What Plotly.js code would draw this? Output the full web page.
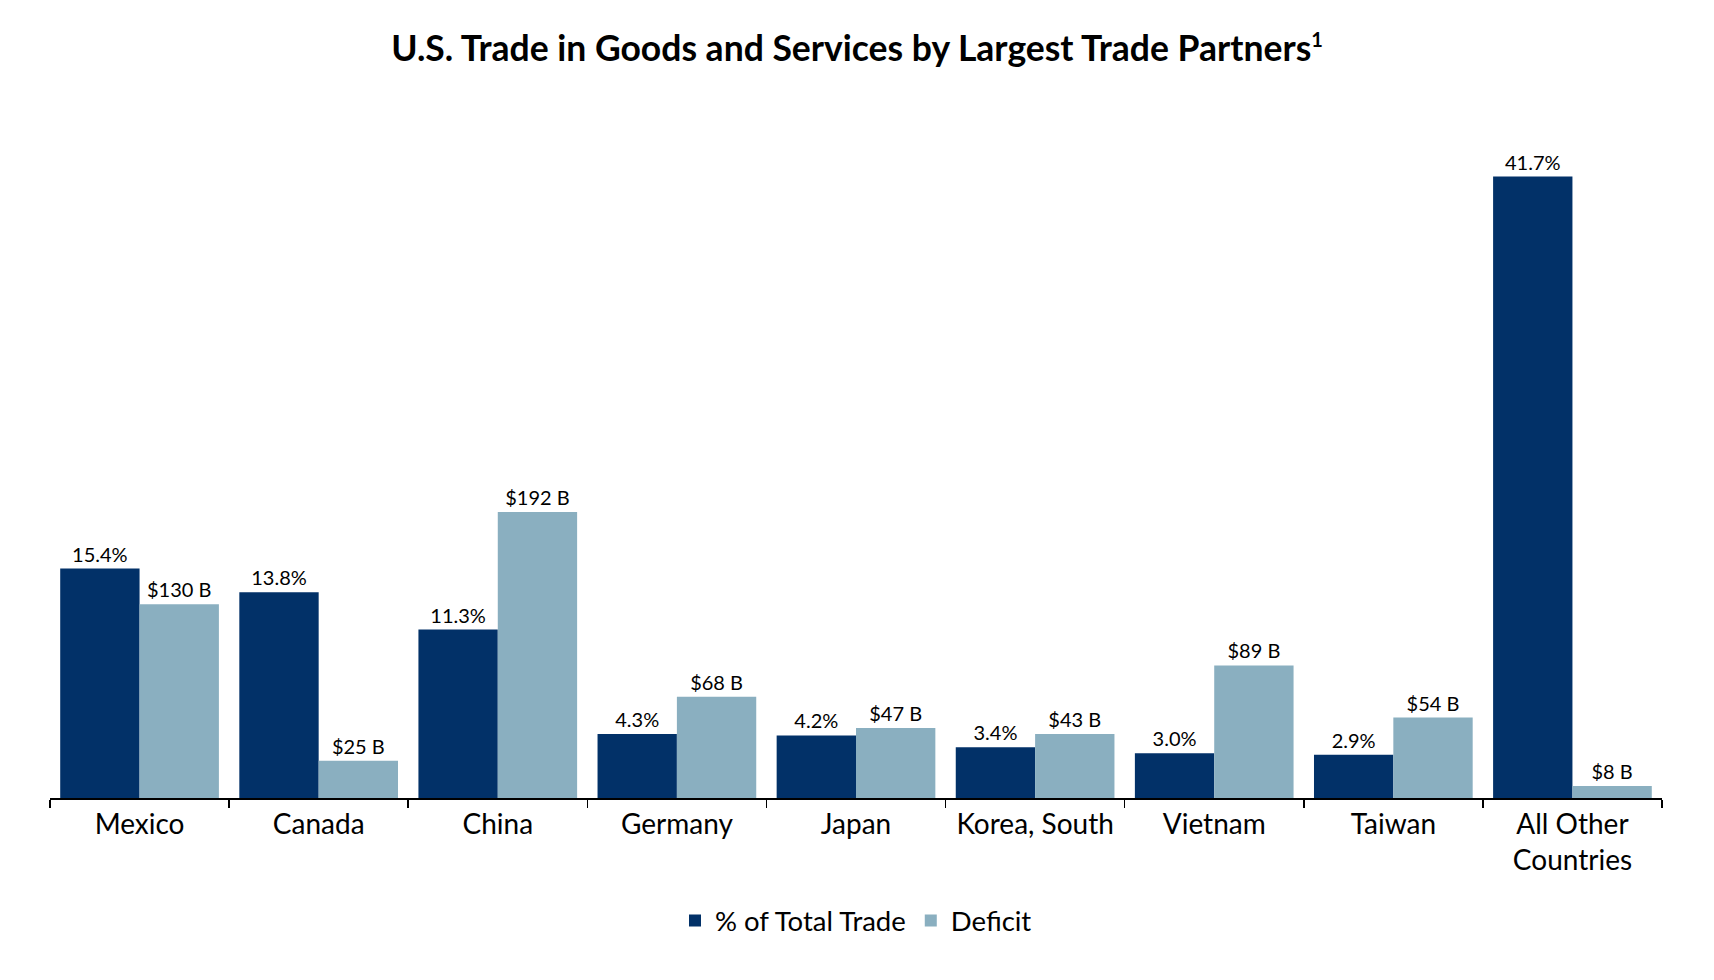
<!DOCTYPE html>
<html>
<head>
<meta charset="utf-8">
<script src="https://cdn.plot.ly/plotly-3.0.1.min.js"></script>
<style>html,body{margin:0;padding:0;background:#fff;}#chart{width:1714px;height:980px;}</style>
</head>
<body>
<div id="chart"></div>
<script>
const categories = ["Mexico", "Canada", "China", "Germany", "Japan", "Korea, South", "Vietnam", "Taiwan", "All Other<br>Countries"];
const shareOfTotalTrade = [15.4, 13.8, 11.3, 4.3, 4.2, 3.4, 3.0, 2.9, 41.7];
const deficitBillions = [130, 25, 192, 68, 47, 43, 89, 54, 8];
const seriesNames = ["% of Total Trade", "Deficit"];

const FONT = "Lato, 'Open Sans', sans-serif";
const DARK = "#023168";
const LIGHT = "#8AAFC0";

const traces = [
  {
    type: "bar",
    name: seriesNames[0],
    x: categories,
    y: shareOfTotalTrade,
    yaxis: "y",
    offsetgroup: "a",
    marker: {color: DARK},
    texttemplate: "%{y:.1f}%",
    textposition: "outside",
    textangle: 0,
    constraintext: "none",
    cliponaxis: false,
    textfont: {family: FONT, size: 20, color: "#000"},
    hoverinfo: "skip"
  },
  {
    type: "bar",
    name: seriesNames[1],
    x: categories,
    y: deficitBillions,
    yaxis: "y2",
    offsetgroup: "b",
    marker: {color: LIGHT},
    texttemplate: "$%{y} B",
    textposition: "outside",
    textangle: 0,
    constraintext: "none",
    cliponaxis: false,
    textfont: {family: FONT, size: 20, color: "#000"},
    hoverinfo: "skip"
  }
];

const yMax = 45.5;
const layout = {
  width: 1714,
  height: 980,
  margin: {l: 50, r: 52, t: 120, b: 182},
  paper_bgcolor: "#fff",
  plot_bgcolor: "#fff",
  font: {family: FONT, color: "#000"},
  title: {
    text: "<b>U.S. Trade in Goods and Services by Largest Trade Partners<sup><span style=\"font-size:20px\">1</span></sup></b>",
    font: {family: FONT, size: 35.5, color: "#000"},
    x: 0.5, xanchor: "center",
    y: 0.95, yanchor: "middle", yref: "container"
  },
  barmode: "group",
  bargap: 0.114,
  bargroupgap: 0,
  showlegend: true,
  legend: {
    orientation: "h",
    x: 0.5, xanchor: "center",
    y: -0.181, yanchor: "middle",
    font: {family: FONT, size: 27.5, color: "#000"},
    itemwidth: 30,
    traceorder: "normal"
  },
  xaxis: {
    type: "category",
    showline: true,
    linecolor: "#000",
    linewidth: 2,
    ticks: "outside",
    tickson: "boundaries",
    ticklen: 8,
    tickwidth: 1.5,
    tickcolor: "#000",
    tickfont: {family: FONT, size: 28, color: "#000"},
    showgrid: false,
    zeroline: false,
    fixedrange: true
  },
  yaxis: {
    range: [0, yMax],
    visible: false,
    showgrid: false,
    zeroline: false,
    fixedrange: true
  },
  yaxis2: {
    range: [0, yMax * 10],
    overlaying: "y",
    visible: false,
    showgrid: false,
    zeroline: false,
    fixedrange: true
  }
};

Plotly.newPlot("chart", traces, layout, {displayModeBar: false, staticPlot: true});
</script>
</body>
</html>
